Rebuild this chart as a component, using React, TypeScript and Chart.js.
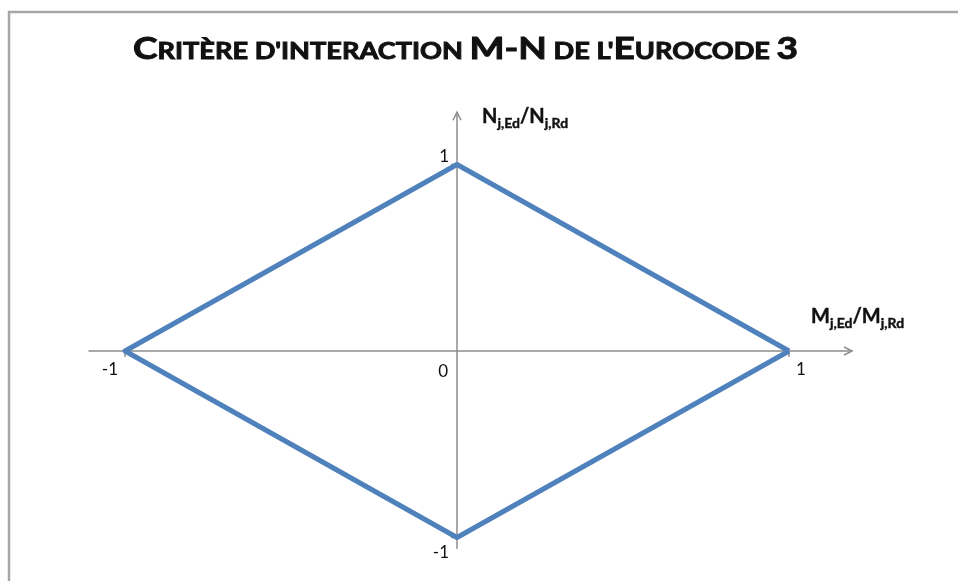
import { useEffect, useRef } from "react";
import { Chart, registerables } from "chart.js";
Chart.register(...registerables);

// Interaction diamond: M/MRd (x) and N/NRd (y)
const momentRatio = [1, 0, -1, 0, 1];
const normalRatio = [0, 1, 0, -1, 0];

const xTickValues = [-1, 1];
const xTickLabels = ["-1", "1"];
const yTickValues = [1, -1];
const yTickLabels = ["1", "-1"];
const originLabel = "0";

// Axis extents (data units) for the drawn cross axes
const xAxisExtent = [-1.11, 1.19];
const yAxisExtent = [-1.06, 1.28];

// Title in small caps: [text, isLarge]
const titleSegments: [string, boolean][] = [
  ["C", true],
  ["RITÈRE D'INTERACTION ", false],
  ["M-N", true],
  [" DE L'", false],
  ["E", true],
  ["UROCODE ", false],
  ["3", true],
];

// Axis titles: [text, isSubscript]
const xAxisTitle: [string, boolean][] = [
  ["M", false],
  ["j,Ed", true],
  ["/M", false],
  ["j,Rd", true],
];
const yAxisTitle: [string, boolean][] = [
  ["N", false],
  ["j,Ed", true],
  ["/N", false],
  ["j,Rd", true],
];

const FONT = "Lato, 'Open Sans', sans-serif";

function drawRich(
  ctx: CanvasRenderingContext2D,
  x: number,
  y: number,
  parts: [string, boolean][],
  mainSize: number,
  subSize: number
) {
  let cx = x;
  ctx.lineWidth = 0.4;
  ctx.strokeStyle = ctx.fillStyle as string;
  for (const [t, sub] of parts) {
    ctx.font = `bold ${sub ? subSize : mainSize}px ${FONT}`;
    ctx.fillText(t, cx, sub ? y + 5 : y);
    ctx.strokeText(t, cx, sub ? y + 5 : y);
    cx += ctx.measureText(t).width;
  }
}

const decor = {
  id: "decor",
  beforeDraw(chart: any) {
    const ctx = chart.ctx as CanvasRenderingContext2D;
    ctx.save();
    ctx.fillStyle = "#ffffff";
    ctx.fillRect(0, 0, chart.width, chart.height);
    ctx.strokeStyle = "#a6a6a6";
    ctx.lineWidth = 2.5;
    ctx.strokeRect(9, 12, chart.width + 20, chart.height + 20);
    ctx.restore();
  },
  beforeDatasetsDraw(chart: any) {
    const ctx = chart.ctx as CanvasRenderingContext2D;
    const xs = chart.scales.x;
    const ys = chart.scales.y;
    const x0 = xs.getPixelForValue(0);
    const y0 = ys.getPixelForValue(0);
    ctx.save();
    ctx.strokeStyle = "#8c8c8c";
    ctx.lineWidth = 1.5;
    // horizontal axis
    const xl = xs.getPixelForValue(xAxisExtent[0]);
    const xr = xs.getPixelForValue(xAxisExtent[1]);
    ctx.beginPath();
    ctx.moveTo(xl, y0);
    ctx.lineTo(xr, y0);
    ctx.stroke();
    ctx.beginPath();
    ctx.moveTo(xr - 8, y0 - 4);
    ctx.lineTo(xr, y0);
    ctx.lineTo(xr - 8, y0 + 4);
    ctx.stroke();
    // vertical axis
    const yb = ys.getPixelForValue(yAxisExtent[0]);
    const yt = ys.getPixelForValue(yAxisExtent[1]);
    ctx.beginPath();
    ctx.moveTo(x0, yb);
    ctx.lineTo(x0, yt);
    ctx.stroke();
    ctx.beginPath();
    ctx.moveTo(x0 - 4, yt + 8);
    ctx.lineTo(x0, yt);
    ctx.lineTo(x0 + 4, yt + 8);
    ctx.stroke();
    // ticks
    for (const v of xTickValues) {
      const px = xs.getPixelForValue(v);
      ctx.beginPath();
      ctx.moveTo(px, y0);
      ctx.lineTo(px, y0 + 6);
      ctx.stroke();
    }
    for (const v of yTickValues) {
      const py = ys.getPixelForValue(v);
      ctx.beginPath();
      ctx.moveTo(x0, py);
      ctx.lineTo(x0 - 6, py);
      ctx.stroke();
    }
    ctx.restore();
  },
  afterDatasetsDraw(chart: any) {
    const ctx = chart.ctx as CanvasRenderingContext2D;
    const xs = chart.scales.x;
    const ys = chart.scales.y;
    const x0 = xs.getPixelForValue(0);
    const y0 = ys.getPixelForValue(0);
    ctx.save();
    ctx.fillStyle = "#111111";
    ctx.textBaseline = "alphabetic";
    ctx.font = `17px ${FONT}`;
    // x tick labels
    xTickValues.forEach((v, i) => {
      const px = xs.getPixelForValue(v);
      if (v < 0) {
        ctx.textAlign = "right";
        ctx.fillText(xTickLabels[i], px - 7, y0 + 24);
      } else {
        ctx.textAlign = "left";
        ctx.fillText(xTickLabels[i], px + 7, y0 + 24);
      }
    });
    // y tick labels
    yTickValues.forEach((v, i) => {
      const py = ys.getPixelForValue(v);
      ctx.textAlign = "right";
      ctx.fillText(yTickLabels[i], x0 - 8, v > 0 ? py - 3 : py + 20);
    });
    ctx.textAlign = "right";
    ctx.fillText(originLabel, x0 - 9, y0 + 26);

    // axis titles
    ctx.textAlign = "left";
    drawRich(ctx, x0 + 25, ys.getPixelForValue(yAxisExtent[1]) + 11, yAxisTitle, 20, 14);
    drawRich(ctx, xs.getPixelForValue(1) + 22, y0 - 28, xAxisTitle, 20, 14);

    // title
    const L = 30;
    const S = 22;
    let w = 0;
    for (const [t, big] of titleSegments) {
      ctx.font = `bold ${big ? L : S}px ${FONT}`;
      w += ctx.measureText(t).width;
    }
    const target = 665;
    const sx = target / w;
    ctx.translate(465.5 - target / 2, 59);
    ctx.scale(sx, 1);
    ctx.strokeStyle = "#111111";
    ctx.lineWidth = 0.9;
    let cx = 0;
    for (const [t, big] of titleSegments) {
      ctx.font = `bold ${big ? L : S}px ${FONT}`;
      ctx.fillText(t, cx, 0);
      ctx.strokeText(t, cx, 0);
      cx += ctx.measureText(t).width;
    }
    ctx.restore();
  },
};

export default function App() {
  const ref = useRef<HTMLCanvasElement>(null);
  useEffect(() => {
    document.body.style.margin = "0";
    const chart = new Chart(ref.current!, {
      type: "scatter",
      data: {
        datasets: [
          {
            data: momentRatio.map((x, i) => ({ x, y: normalRatio[i] })),
            showLine: true,
            borderColor: "#4f81bd",
            borderWidth: 5,
            pointRadius: 0,
            fill: false,
            borderJoinStyle: "round",
            tension: 0,
          } as any,
        ],
      },
      options: {
        responsive: false,
        animation: false,
        layout: { padding: { left: 25.4, right: 36.2, top: 71.25, bottom: 6.2 } },
        scales: {
          x: { type: "linear", min: -1.3, max: 1.4, display: false },
          y: { type: "linear", min: -1.2, max: 1.5, display: false },
        },
        plugins: {
          legend: { display: false },
          tooltip: { enabled: false },
          title: { display: false },
        },
      },
      plugins: [decor],
    });
    return () => chart.destroy();
  }, []);
  return <canvas ref={ref} width={958} height={581} style={{ display: "block" }} />;
}
